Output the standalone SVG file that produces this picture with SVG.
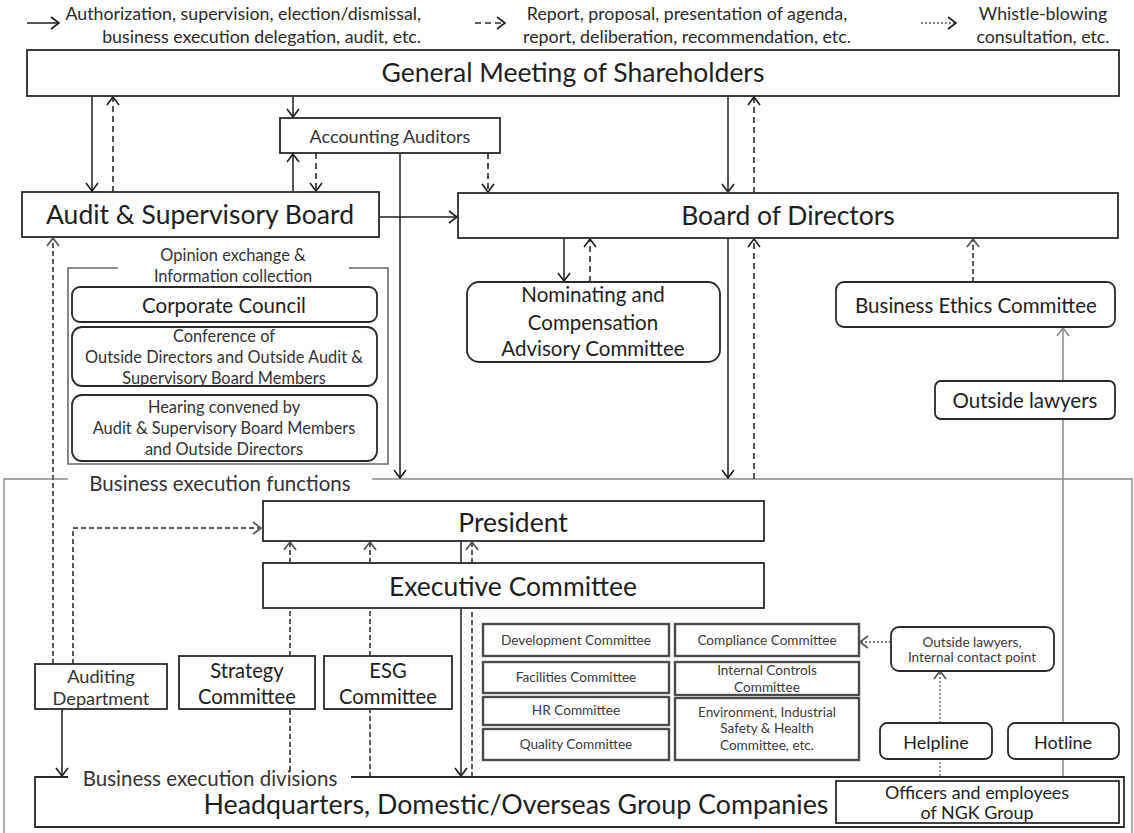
<svg xmlns="http://www.w3.org/2000/svg" width="1134" height="833" viewBox="0 0 1134 833">
  <defs>
    <style>
      text { font-family: Lato, "Liberation Sans", "DejaVu Sans", sans-serif; fill: #1e1e1e; text-anchor: middle; }
      .box { fill: #fff; stroke: #2a2a2a; stroke-width: 1.8; }
      .rbox { fill: #fff; stroke: #2a2a2a; stroke-width: 1.8; }
      .cbox { fill: #fff; stroke: #4a4a4a; stroke-width: 2.4; }
      .frame { fill: none; stroke: #8a8a8a; stroke-width: 1.4; }
      .gframe { fill: none; stroke: #6a6a6a; stroke-width: 1.6; }
      .solid { fill: none; stroke: #1e1e1e; stroke-width: 1.5; }
      .dash { fill: none; stroke: #2a2a2a; stroke-width: 1.6; stroke-dasharray: 6 4; }
      .gdash { fill: none; stroke: #5a5a5a; stroke-width: 2; stroke-dasharray: 5 3; }
      .dot { fill: none; stroke: #555; stroke-width: 1.3; stroke-dasharray: 2 2; }
      .gline { fill: none; stroke: #8a8a8a; stroke-width: 1.5; }
      .big { font-size: 26.5px; }
      .mid { font-size: 20.5px; }
      .sm { font-size: 16.4px; fill: #333; }
      .xs { font-size: 13.6px; fill: #3a3a3a; }
      .leg { font-size: 17.8px; fill: #2a2a2a; }
    </style>
    <marker id="ah" viewBox="0 0 10 14" refX="9" refY="7" markerWidth="10" markerHeight="14" markerUnits="userSpaceOnUse" orient="auto">
      <path d="M1,1 L9,7 L1,13" fill="none" stroke="#1e1e1e" stroke-width="1.6"/>
    </marker>
    <marker id="ahg" viewBox="0 0 10 14" refX="9" refY="7" markerWidth="10" markerHeight="14" markerUnits="userSpaceOnUse" orient="auto">
      <path d="M1,1 L9,7 L1,13" fill="none" stroke="#5a5a5a" stroke-width="1.8"/>
    </marker>
    <marker id="ahl" viewBox="0 0 10 14" refX="9" refY="7" markerWidth="10" markerHeight="14" markerUnits="userSpaceOnUse" orient="auto">
      <path d="M1,1 L9,7 L1,13" fill="none" stroke="#8a8a8a" stroke-width="1.6"/>
    </marker>
  </defs>

  <rect width="1134" height="833" fill="#fff"/>

  <!-- legend -->
  <g id="legend">
    <line class="solid" x1="27" y1="23" x2="59" y2="23" marker-end="url(#ah)"/>
    <text class="leg" x="421" y="20" style="text-anchor:end">Authorization, supervision, election/dismissal,</text>
    <text class="leg" x="421" y="43" style="text-anchor:end">business execution delegation, audit, etc.</text>
    <line class="dash" x1="475" y1="23" x2="505" y2="23" stroke-dasharray="5 4" marker-end="url(#ah)"/>
    <text class="leg" x="687" y="20">Report, proposal, presentation of agenda,</text>
    <text class="leg" x="687" y="43">report, deliberation, recommendation, etc.</text>
    <line class="dot" x1="921" y1="23" x2="956" y2="23" marker-end="url(#ah)"/>
    <text class="leg" x="1043" y="20">Whistle-blowing</text>
    <text class="leg" x="1043" y="43">consultation, etc.</text>
  </g>

  <!-- outer frames -->
  <g id="frames">
    <path class="frame" d="M68,479 H4 V833 M372,479 H1132 V833"/>
    <text x="220" y="491" style="font-size:20.5px;fill:#333">Business execution functions</text>
    <path class="gframe" d="M118,268 H68 V464 H388 V268 H349"/>
    <text class="sm" x="233" y="261">Opinion exchange &amp;</text>
    <text class="sm" x="233" y="282">Information collection</text>
  </g>

  <!-- connectors -->
  <g id="connectors">
    <line class="solid" x1="92" y1="96" x2="92" y2="191" marker-end="url(#ah)"/>
    <line class="dash" x1="113" y1="192" x2="113" y2="97" marker-end="url(#ah)"/>
    <line class="solid" x1="293" y1="96" x2="293" y2="117" marker-end="url(#ah)"/>
    <line class="solid" x1="293" y1="192" x2="293" y2="154" marker-end="url(#ah)"/>
    <line class="dash" x1="316" y1="153" x2="316" y2="191" marker-end="url(#ah)"/>
    <line class="solid" x1="400" y1="153" x2="400" y2="478" marker-end="url(#ah)"/>
    <line class="dash" x1="488" y1="153" x2="488" y2="192" marker-end="url(#ah)"/>
    <line class="solid" x1="379" y1="217" x2="457" y2="217" marker-end="url(#ah)"/>
    <line class="solid" x1="728" y1="96" x2="728" y2="192" marker-end="url(#ah)"/>
    <line class="dash" x1="754" y1="193" x2="754" y2="97" marker-end="url(#ah)"/>
    <line class="solid" x1="564" y1="238" x2="564" y2="281" marker-end="url(#ah)"/>
    <line class="dash" x1="590" y1="282" x2="590" y2="239" marker-end="url(#ah)"/>
    <line class="solid" x1="728" y1="238" x2="728" y2="478" marker-end="url(#ah)"/>
    <line class="dash" x1="754" y1="479" x2="754" y2="239" marker-end="url(#ah)"/>
    <line class="gdash" x1="973" y1="282" x2="973" y2="239" marker-end="url(#ahg)"/>
    <line class="gline" x1="1063" y1="783" x2="1063" y2="328" marker-end="url(#ahl)"/>
    <line class="gdash" x1="53" y1="664" x2="53" y2="238" marker-end="url(#ahg)"/>
    <path class="gdash" d="M73,664 V528 H261" marker-end="url(#ahg)"/>
    <line class="solid" x1="62" y1="709" x2="62" y2="776" marker-end="url(#ah)"/>
    <path class="gdash" d="M290,771 V709 M290,656 V608"/>
    <line class="gdash" x1="290" y1="563" x2="290" y2="542" marker-end="url(#ahg)"/>
    <path class="gdash" d="M370,777 V709 M370,656 V608"/>
    <line class="gdash" x1="370" y1="563" x2="370" y2="542" marker-end="url(#ahg)"/>
    <line class="gdash" x1="472" y1="777" x2="472" y2="608"/>
    <line class="gdash" x1="472" y1="563" x2="472" y2="542" marker-end="url(#ahg)"/>
    <line class="solid" x1="461" y1="541" x2="461" y2="776" marker-end="url(#ah)"/>
    <line class="dot" x1="891" y1="642" x2="860" y2="642" marker-end="url(#ahg)"/>
    <line class="dot" x1="940" y1="780" x2="940" y2="759"/>
    <line class="dot" x1="940" y1="723" x2="940" y2="671" marker-end="url(#ahg)"/>
  </g>

  <!-- governance bodies -->
  <g id="gms">
    <rect class="box" x="27" y="50" width="1092" height="46"/>
    <text class="big" x="573" y="82">General Meeting of Shareholders</text>
  </g>
  <g id="accounting-auditors">
    <rect class="box" x="280" y="118" width="220" height="35"/>
    <text x="390" y="143" style="font-size:18px;fill:#333">Accounting Auditors</text>
  </g>
  <g id="audit-board">
    <rect class="box" x="22" y="192" width="357" height="45"/>
    <text class="big" x="200" y="224">Audit &amp; Supervisory Board</text>
  </g>
  <g id="board-of-directors">
    <rect class="box" x="458" y="193" width="660" height="45"/>
    <text class="big" x="788" y="225">Board of Directors</text>
  </g>
  <g id="corporate-council">
    <rect class="rbox" x="72" y="287" width="305" height="35" rx="8"/>
    <text x="224" y="313" style="font-size:20.5px">Corporate Council</text>
  </g>
  <g id="conference">
    <rect class="rbox" x="72" y="327" width="305" height="59" rx="10"/>
    <text class="sm" x="224" y="342">Conference of</text>
    <text class="sm" x="224" y="363">Outside Directors and Outside Audit &amp;</text>
    <text class="sm" x="224" y="384">Supervisory Board Members</text>
  </g>
  <g id="hearing">
    <rect class="rbox" x="72" y="395" width="305" height="66" rx="10"/>
    <text class="sm" x="224" y="413">Hearing convened by</text>
    <text class="sm" x="224" y="434">Audit &amp; Supervisory Board Members</text>
    <text class="sm" x="224" y="455">and Outside Directors</text>
  </g>
  <g id="nominating">
    <rect class="rbox" x="467" y="282" width="253" height="80" rx="12"/>
    <text class="mid" x="593" y="302">Nominating and</text>
    <text class="mid" x="593" y="330">Compensation</text>
    <text class="mid" x="593" y="356">Advisory Committee</text>
  </g>
  <g id="business-ethics">
    <rect class="rbox" x="836" y="282" width="279" height="45" rx="8"/>
    <text class="mid" x="976" y="313">Business Ethics Committee</text>
  </g>
  <g id="outside-lawyers">
    <rect class="rbox" x="935" y="381" width="180" height="38" rx="6"/>
    <text class="mid" x="1025" y="408">Outside lawyers</text>
  </g>

  <!-- business execution -->
  <g id="president">
    <rect class="box" x="263" y="501" width="501" height="40"/>
    <text class="big" x="513" y="532">President</text>
  </g>
  <g id="executive-committee">
    <rect class="box" x="263" y="563" width="501" height="45"/>
    <text class="big" x="513" y="596">Executive Committee</text>
  </g>
  <g id="auditing-department">
    <rect class="box" x="35" y="664" width="132" height="45"/>
    <text x="101" y="683" style="font-size:18.2px;fill:#333">Auditing</text>
    <text x="101" y="705" style="font-size:18.2px;fill:#333">Department</text>
  </g>
  <g id="strategy-committee">
    <rect class="box" x="179" y="656" width="136" height="53"/>
    <text x="247" y="678" style="font-size:20.2px">Strategy</text>
    <text x="247" y="704" style="font-size:20.2px">Committee</text>
  </g>
  <g id="esg-committee">
    <rect class="box" x="324" y="656" width="128" height="53"/>
    <text x="388" y="678" style="font-size:20.2px">ESG</text>
    <text x="388" y="704" style="font-size:20.2px">Committee</text>
  </g>
  <g id="development-committee">
    <rect class="cbox" x="483" y="624" width="186" height="32"/>
    <text class="xs" x="576" y="645">Development Committee</text>
  </g>
  <g id="facilities-committee">
    <rect class="cbox" x="483" y="662" width="186" height="31"/>
    <text class="xs" x="576" y="682">Facilities Committee</text>
  </g>
  <g id="hr-committee">
    <rect class="cbox" x="483" y="697" width="186" height="28"/>
    <text class="xs" x="576" y="715">HR Committee</text>
  </g>
  <g id="quality-committee">
    <rect class="cbox" x="483" y="729" width="186" height="31"/>
    <text class="xs" x="576" y="749">Quality Committee</text>
  </g>
  <g id="compliance-committee">
    <rect class="cbox" x="675" y="624" width="184" height="32"/>
    <text class="xs" x="767" y="645">Compliance Committee</text>
  </g>
  <g id="internal-controls-committee">
    <rect class="cbox" x="675" y="662" width="184" height="33"/>
    <text class="xs" x="767" y="675">Internal Controls</text>
    <text class="xs" x="767" y="692">Committee</text>
  </g>
  <g id="environment-committee">
    <rect class="cbox" x="675" y="698" width="184" height="62"/>
    <text class="xs" x="767" y="717">Environment, Industrial</text>
    <text class="xs" x="767" y="733">Safety &amp; Health</text>
    <text class="xs" x="767" y="750">Committee, etc.</text>
  </g>
  <g id="contact-point">
    <rect class="rbox" x="891" y="627" width="163" height="44" rx="8"/>
    <text class="xs" x="972" y="647">Outside lawyers,</text>
    <text class="xs" x="972" y="662">Internal contact point</text>
  </g>
  <g id="helpline">
    <rect class="rbox" x="880" y="723" width="112" height="36" rx="7"/>
    <text x="936" y="749" style="font-size:18px">Helpline</text>
  </g>
  <g id="hotline">
    <rect class="rbox" x="1008" y="723" width="111" height="36" rx="7"/>
    <text x="1063" y="749" style="font-size:18px">Hotline</text>
  </g>
  <g id="headquarters">
    <rect x="35" y="777" width="1089" height="50" fill="#fff"/>
    <path class="box" fill="none" d="M68,777 H35 V827 H1124 V777 H351"/>
    <text x="210" y="786" style="font-size:20.5px;fill:#333">Business execution divisions</text>
    <text x="516" y="814" style="font-size:26.8px">Headquarters, Domestic/Overseas Group Companies</text>
  </g>
  <g id="officers-employees">
    <rect class="box" x="836" y="781" width="283" height="42"/>
    <text x="977" y="799" style="font-size:17.9px">Officers and employees</text>
    <text x="977" y="819" style="font-size:17.9px">of NGK Group</text>
  </g>
</svg>
